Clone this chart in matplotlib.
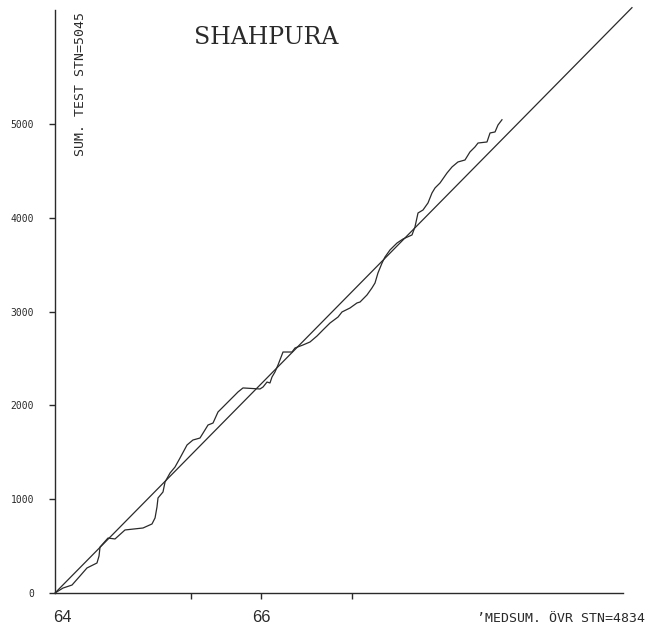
import matplotlib
matplotlib.use("Agg")
import matplotlib.pyplot as plt

# Double-mass curve: cumulative test station vs cumulative median of other stations
median_cum = [0, 87, 184, 270, 346, 454, 476, 487, 573, 649, 757, 952, 1049, 1082,
              1103, 1114, 1168, 1190, 1244, 1298, 1352, 1428, 1492, 1568, 1622, 1655,
              1709, 1763, 1806, 1893, 1947, 1979, 2033, 2217, 2250, 2293, 2325, 2347,
              2379, 2412, 2466, 2563, 2596, 2682, 2758, 2834, 2898, 2974, 3061, 3104,
              3190, 3266, 3299, 3374, 3428, 3461, 3493, 3537, 3569, 3623, 3699, 3764,
              3861, 3893, 3926, 3980, 4034, 4077, 4110, 4164, 4240, 4294, 4358, 4434,
              4488, 4542, 4575, 4672, 4705, 4759, 4791, 4834]
test_cum = [0, 53, 85, 181, 267, 320, 394, 490, 586, 576, 672, 693, 736, 800,
            917, 1013, 1077, 1183, 1279, 1343, 1439, 1578, 1631, 1652, 1738, 1791,
            1812, 1930, 1972, 2058, 2111, 2143, 2186, 2175, 2196, 2249, 2239, 2303,
            2356, 2431, 2569, 2569, 2612, 2644, 2676, 2740, 2804, 2878, 2942, 2996,
            3038, 3092, 3102, 3177, 3252, 3305, 3412, 3518, 3582, 3657, 3731, 3774,
            3817, 3902, 4051, 4083, 4158, 4264, 4318, 4371, 4478, 4542, 4595, 4616,
            4702, 4755, 4797, 4808, 4904, 4915, 4989, 5045]

# 1:1 reference line
ref_line = [0, 6240]

y_ticks = [0, 1000, 2000, 3000, 4000, 5000]
y_tick_labels = ["0", "1000", "2000", "3000", "4000", "5000"]
x_ticks = [1470, 2230, 3215]
year_labels = ["64", "66"]
year_positions = [0, 2230]

title = "SHAHPURA"
y_caption = "SUM. TEST STN=5045"
x_caption = "\u2019MEDSUM. \u00d6VR STN=4834"

W, H = 657, 626
fig = plt.figure(figsize=(W / 100, H / 100), dpi=100)
fig.patch.set_facecolor("white")

ax_left, ax_right, ax_bottom, ax_top = 55, 623, 593, 10
ax = fig.add_axes([ax_left / W, (H - ax_bottom) / H,
                   (ax_right - ax_left) / W, (ax_bottom - ax_top) / H])

ink = "#2a2a2a"
ax.plot(ref_line, ref_line, color=ink, lw=0.9, clip_on=False)
ax.plot(median_cum, test_cum, color=ink, lw=0.9)

ax.set_xlim(0, 6143)
ax.set_ylim(0, 6215)

for side in ("top", "right"):
    ax.spines[side].set_visible(False)
for side in ("left", "bottom"):
    ax.spines[side].set_color(ink)
    ax.spines[side].set_linewidth(1.0)

ax.set_yticks(y_ticks)
ax.set_yticklabels(y_tick_labels, family="DejaVu Sans Mono", fontsize=7, color=ink)
ax.tick_params(axis="y", direction="out", length=4.5, width=1.0, color=ink, pad=10.5)

ax.set_xticks(x_ticks)
ax.set_xticklabels([])
ax.tick_params(axis="x", direction="out", length=4, width=1.0, color=ink)

# year labels under the horizontal axis
for pos, lab in zip(year_positions, year_labels):
    ax.annotate(lab, xy=(pos, 0), xycoords="data", xytext=(0 if pos else 5, -18),
                textcoords="offset points", family="Liberation Sans", fontsize=12,
                color=ink, ha="center", va="center", annotation_clip=False)

def px(x, y):
    return x / W, 1 - y / H

fig.text(*px(266, 37), title, family="DejaVu Serif", fontsize=17, color=ink,
         ha="center", va="center")
fig.text(*px(80, 12), y_caption, family="DejaVu Sans Mono", fontsize=9.5, color=ink,
         rotation=90, ha="center", va="top")
fig.text(*px(645, 618), x_caption, family="DejaVu Sans Mono", fontsize=9.5, color=ink,
         ha="right", va="center")

fig.savefig("out.png", dpi=100, facecolor="white")
